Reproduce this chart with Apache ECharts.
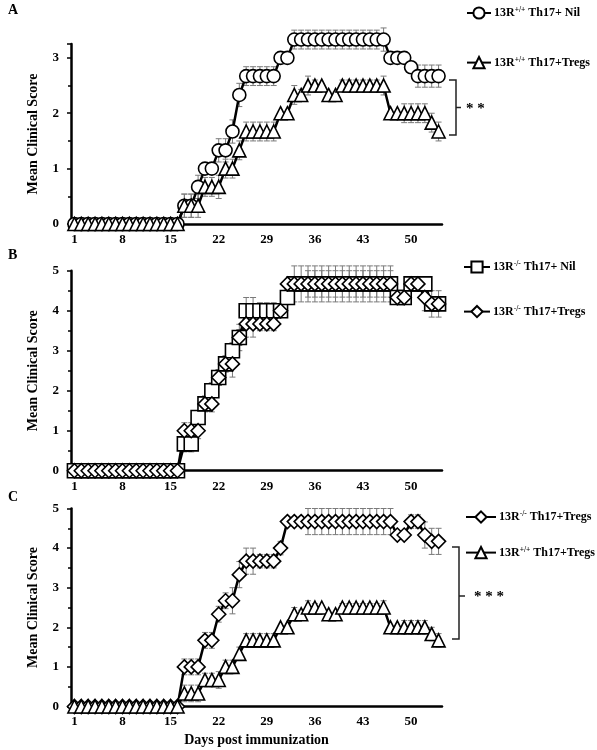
<!DOCTYPE html>
<html><head><meta charset="utf-8">
<script src="https://cdn.jsdelivr.net/npm/echarts@6/dist/echarts.min.js"></script>
<style>html,body{margin:0;padding:0;background:#fff}#c{width:597px;height:750px}</style>
</head><body><div id="c"></div>
<script>
const days = [1,2,3,4,5,6,7,8,9,10,11,12,13,14,15,16,17,18,19,20,21,22,23,24,25,26,27,28,29,30,31,32,33,34,35,36,37,38,39,40,41,42,43,44,45,46,47,48,49,50,51,52,53,54];
const Z16 = [0,0,0,0,0,0,0,0,0,0,0,0,0,0,0,0];
// 13R+/+ Th17+ Nil (circles)
const wtNil = Z16.concat([0.33,0.33,0.67,1.0,1.0,1.33,1.33,1.67,2.33,2.67,2.67,2.67,2.67,2.67,3.0,3.0,
  3.33,3.33,3.33,3.33,3.33,3.33,3.33,3.33,3.33,3.33,3.33,3.33,3.33,3.33,3.0,3.0,3.0,2.83,2.67,2.67,2.67,2.67]);
const wtNilErr = Z16.concat([0.21,0.21,0.21,0,0,0.21,0.21,0.21,0.21,0.17,0.17,0.17,0.17,0.17,0,0,
  0.17,0.17,0.17,0.17,0.17,0.17,0.17,0.17,0.17,0.17,0.17,0.17,0.17,0.21,0,0,0,0.1,0.2,0.2,0.2,0.2]);
// 13R+/+ Th17+Tregs (triangles)
const wtTregs = Z16.concat([0.33,0.33,0.33,0.67,0.67,0.67,1.0,1.0,1.33,1.67,1.67,1.67,1.67,1.67,2.0,2.0,
  2.33,2.33,2.5,2.5,2.5,2.33,2.33,2.5,2.5,2.5,2.5,2.5,2.5,2.5,2.0,2.0,2.0,2.0,2.0,2.0,1.83,1.67]);
const wtTregsErr = Z16.concat([0.21,0.21,0.21,0.17,0.17,0.21,0.17,0.17,0.17,0.17,0.17,0.17,0.17,0.17,0,0,
  0.17,0.1,0.17,0.1,0,0.05,0.05,0.1,0.1,0.1,0.1,0.1,0.1,0.17,0,0,0.17,0.17,0.17,0.17,0.17,0.17]);
// 13R-/- Th17+ Nil (squares)
const koNil = Z16.concat([0.67,0.67,1.33,1.67,2.0,2.33,2.67,3.0,3.33,4.0,4.0,4.0,4.0,4.0,4.0,4.33,
  4.67,4.67,4.67,4.67,4.67,4.67,4.67,4.67,4.67,4.67,4.67,4.67,4.67,4.67,4.67,4.33,4.33,4.67,4.67,4.67,4.17,4.17]);
const koNilErr = Z16.concat([0.2,0.2,0.17,0.17,0.2,0.2,0.2,0.2,0.2,0.33,0.33,0.2,0.2,0.2,0.1,0.1,
  0.45,0.45,0.45,0.45,0.45,0.45,0.45,0.45,0.45,0.45,0.45,0.45,0.45,0.45,0.45,0.1,0.1,0.1,0.1,0.1,0.17,0.17]);
// 13R-/- Th17+Tregs (diamonds)
const koTregs = Z16.concat([1.0,1.0,1.0,1.67,1.67,2.33,2.67,2.67,3.33,3.67,3.67,3.67,3.67,3.67,4.0,4.67,
  4.67,4.67,4.67,4.67,4.67,4.67,4.67,4.67,4.67,4.67,4.67,4.67,4.67,4.67,4.67,4.33,4.33,4.67,4.67,4.33,4.17,4.17]);
const koTregsErr = Z16.concat([0.2,0.2,0.2,0.2,0.2,0.2,0.2,0.33,0.33,0.33,0.33,0.17,0.17,0.17,0.17,0,
  0,0.1,0.33,0.33,0.33,0.33,0.33,0.33,0.33,0.33,0.33,0.33,0.33,0.33,0.33,0.1,0.1,0.17,0.17,0.33,0.33,0.33]);

const legendText = {
  A_nil: '13R{sup|+/+} Th17+ Nil',
  A_tr: '13R{sup|+/+} Th17+Tregs',
  B_nil: '13R{sup|-/-} Th17+ Nil',
  B_tr: '13R{sup|-/-} Th17+Tregs',
  C_ko: '13R{sup|-/-} Th17+Tregs',
  C_wt: '13R{sup|+/+} Th17+Tregs'
};

const FONT = 'Liberation Serif';
const chart = echarts.init(document.getElementById('c'));

const grids = [
  {left: 71, width: 371, top: 44, height: 180},
  {left: 71, width: 371, top: 270.7, height: 200},
  {left: 71, width: 371, top: 508.5, height: 198}
];
const yMax = [3.25, 5, 5];

function xAxis(i) {
  const a = {
    type: 'category', gridIndex: i, data: days, boundaryGap: true,
    axisLine: {lineStyle: {color: '#000', width: 2.5}},
    axisTick: {show: false},
    axisLabel: {interval: 6, margin: 9, color: '#000', fontFamily: FONT, fontWeight: 'bold', fontSize: 13},
    splitLine: {show: false}
  };
  if (i === 2) {
    a.name = 'Days post immunization';
    a.nameLocation = 'middle';
    a.nameGap = 27;
    a.nameTextStyle = {color: '#000', fontFamily: FONT, fontWeight: 'bold', fontSize: 14};
  }
  return a;
}
function yAxis(i) {
  return {
    type: 'value', gridIndex: i, min: 0, max: yMax[i], interval: 1,
    name: 'Mean Clinical Score', nameLocation: 'middle', nameGap: 31,
    nameTextStyle: {color: '#000', fontFamily: FONT, fontWeight: 'bold', fontSize: 14},
    axisLine: {show: true, lineStyle: {color: '#000', width: 2.5}},
    axisTick: {show: true, length: 4, lineStyle: {color: '#000', width: 1.5}},
    minorTick: {show: true, splitNumber: 2, length: 3, lineStyle: {color: '#000', width: 1.5}},
    axisLabel: {margin: 12, color: '#000', fontFamily: FONT, fontWeight: 'bold', fontSize: 13,
      formatter: v => (Math.abs(v - Math.round(v)) < 1e-6 ? String(Math.round(v)) : '')},
    splitLine: {show: false}
  };
}

function lineSeries(name, gi, data, symbol, size) {
  return {
    name, type: 'line', xAxisIndex: gi, yAxisIndex: gi, data, clip: false,
    symbol, symbolSize: size, showAllSymbol: true, z: 3,
    lineStyle: {color: '#000', width: 2.5},
    itemStyle: {color: '#fff', borderColor: '#000', borderWidth: 1.6},
    emphasis: {disabled: true}, animation: false
  };
}
function errSeries(gi, vals, errs) {
  const data = [];
  vals.forEach((v, i) => { if (errs[i] > 0) data.push([i, v - errs[i], v + errs[i]]); });
  return {
    type: 'custom', xAxisIndex: gi, yAxisIndex: gi, data, z: 1, silent: true, animation: false, clip: false,
    encode: {x: 0, y: [1, 2]},
    renderItem(params, api) {
      const x = api.value(0);
      const lo = api.coord([x, api.value(1)]);
      const hi = api.coord([x, api.value(2)]);
      const w = 3;
      const st = {stroke: '#7a7a7a', lineWidth: 1};
      return {type: 'group', children: [
        {type: 'line', shape: {x1: lo[0], y1: lo[1], x2: hi[0], y2: hi[1]}, style: st},
        {type: 'line', shape: {x1: lo[0] - w, y1: lo[1], x2: lo[0] + w, y2: lo[1]}, style: st},
        {type: 'line', shape: {x1: hi[0] - w, y1: hi[1], x2: hi[0] + w, y2: hi[1]}, style: st}
      ]};
    }
  };
}

const legendTextStyle = {
  color: '#000', fontFamily: FONT, fontWeight: 'bold', fontSize: 12, padding: [0, 0, 0, -2],
  rich: {sup: {fontFamily: FONT, fontWeight: 'bold', fontSize: 7.5, color: '#000', verticalAlign: 'top', padding: [0, 0, 6, 0]}}
};
function legend(data, left, top, gap, w) {
  return {
    data, orient: 'vertical', left, top, padding: 0, itemGap: gap, itemWidth: w, itemHeight: 14,
    selectedMode: false, textStyle: legendTextStyle, formatter: n => legendText[n]
  };
}

const brk = {stroke: '#222', lineWidth: 1.5};
const option = {
  animation: false,
  backgroundColor: '#fff',
  grid: grids,
  xAxis: [xAxis(0), xAxis(1), xAxis(2)],
  yAxis: [yAxis(0), yAxis(1), yAxis(2)],
  legend: [
    legend(['A_nil', 'A_tr'], 466, 6, 36, 24),
    legend(['B_nil', 'B_tr'], 463, 260, 31, 26),
    legend(['C_ko', 'C_wt'], 465, 510, 22, 30)
  ],
  series: [
    errSeries(0, wtNil, wtNilErr),
    errSeries(0, wtTregs, wtTregsErr),
    lineSeries('A_nil', 0, wtNil, 'circle', 13),
    lineSeries('A_tr', 0, wtTregs, 'triangle', 13),
    errSeries(1, koNil, koNilErr),
    errSeries(1, koTregs, koTregsErr),
    lineSeries('B_nil', 1, koNil, 'rect', 14),
    lineSeries('B_tr', 1, koTregs, 'diamond', 14),
    errSeries(2, koTregs, koTregsErr),
    errSeries(2, wtTregs, wtTregsErr),
    lineSeries('C_ko', 2, koTregs, 'diamond', 14),
    lineSeries('C_wt', 2, wtTregs, 'triangle', 13)
  ],
  graphic: [
    {type: 'text', left: 8, top: 3, style: {text: 'A', font: 'bold 14px "Liberation Serif"', fill: '#000'}},
    {type: 'text', left: 8, top: 248, style: {text: 'B', font: 'bold 14px "Liberation Serif"', fill: '#000'}},
    {type: 'text', left: 8, top: 490, style: {text: 'C', font: 'bold 14px "Liberation Serif"', fill: '#000'}},
    {type: 'polyline', shape: {points: [[449, 80], [456, 80], [456, 135], [449, 135]]}, style: Object.assign({fill: null}, brk)},
    {type: 'line', shape: {x1: 456, y1: 107.5, x2: 461, y2: 107.5}, style: brk},
    {type: 'text', x: 466, y: 102, style: {text: '* *', font: 'bold 15px "Liberation Serif"', fill: '#000'}},
    {type: 'polyline', shape: {points: [[452, 547], [459, 547], [459, 639], [452, 639]]}, style: Object.assign({fill: null}, brk)},
    {type: 'line', shape: {x1: 459, y1: 596, x2: 465, y2: 596}, style: brk},
    {type: 'text', x: 474, y: 590, style: {text: '* * *', font: 'bold 15px "Liberation Serif"', fill: '#000'}}
  ]
};
chart.setOption(option);
</script>
</body></html>
